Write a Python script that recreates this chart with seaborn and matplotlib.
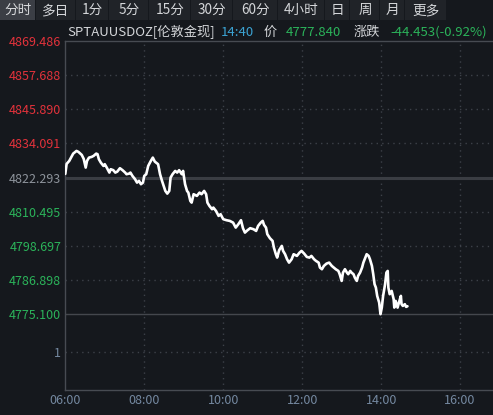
"""
London spot gold intraday chart (分时) - dark terminal style
"""

import matplotlib.pyplot as plt
import pandas as pd
import seaborn as sns
from matplotlib.patches import Rectangle

# -----------------------------
# Data
# -----------------------------
# minutes after 06:00
MINUTES = [
    0, 2, 6, 10, 12, 17, 20, 25, 28, 31, 33, 36, 40, 43, 47, 49, 51, 54, 58, 60,
    63, 67, 69, 73, 76, 79, 83, 87, 91, 93, 97, 99, 102, 106, 109, 112, 115, 118,
    120, 123, 126, 130, 133, 136, 141, 144, 147, 152, 155, 158, 160, 163, 167,
    170, 173, 177, 179, 182, 185, 187, 190, 192, 195, 200, 204, 207, 211, 214,
    216, 219, 223, 225, 229, 233, 236, 240, 245, 250, 255, 259, 263, 267, 270,
    273, 277, 281, 286, 290, 293, 297, 300, 302, 305, 307, 311, 315, 317, 320,
    322, 325, 329, 331, 334, 337, 340, 344, 347, 352, 356, 359, 363, 367, 371,
    374, 378, 381, 385, 387, 390, 393, 397, 401, 405, 408, 411, 415, 417, 420,
    422, 425, 428, 430, 433, 435, 438, 440, 443, 445, 448, 451, 453, 456, 458,
    461, 463, 466, 468, 470, 472, 474, 477, 479, 481, 483, 486, 488, 490, 491,
    493, 496, 499, 500, 502, 505, 507, 510, 511, 513, 516, 518, 520,
]
PRICE = [
    4823.57, 4827.02, 4828.06, 4829.79, 4830.58, 4831.51, 4831.17, 4830.13,
    4828.75, 4825.75, 4828.06, 4829.20, 4829.44, 4829.79, 4830.58, 4830.37,
    4828.65, 4827.47, 4826.33, 4826.92, 4825.75, 4824.02, 4825.19, 4824.85,
    4824.02, 4824.36, 4825.54, 4824.85, 4824.02, 4823.46, 4823.67, 4824.02,
    4822.88, 4821.74, 4820.56, 4821.15, 4820.01, 4820.56, 4822.88, 4823.46,
    4826.33, 4828.06, 4829.20, 4827.82, 4826.92, 4823.46, 4821.15, 4817.69,
    4816.76, 4817.69, 4822.29, 4823.46, 4824.60, 4824.02, 4824.85, 4823.46,
    4824.60, 4820.01, 4817.69, 4817.11, 4814.24, 4813.65, 4816.55, 4815.97,
    4817.11, 4816.55, 4817.69, 4816.55, 4813.65, 4812.51, 4811.37, 4811.93,
    4810.78, 4809.06, 4809.64, 4807.92, 4807.57, 4807.33, 4806.74, 4805.02,
    4806.19, 4807.57, 4804.81, 4803.29, 4804.12, 4804.81, 4804.46, 4803.87,
    4805.60, 4806.74, 4807.33, 4805.95, 4805.02, 4802.74, 4801.35, 4800.42,
    4798.11, 4795.82, 4794.65, 4797.21, 4798.69, 4796.96, 4795.82, 4794.10,
    4792.92, 4794.10, 4795.82, 4795.24, 4796.38, 4796.96, 4796.03, 4794.89,
    4794.65, 4795.24, 4794.10, 4793.51, 4792.92, 4791.20, 4790.64, 4791.78,
    4792.58, 4792.92, 4791.78, 4791.20, 4790.64, 4790.05, 4788.91, 4786.60,
    4789.47, 4790.64, 4789.47, 4788.91, 4790.05, 4789.47, 4788.91, 4787.74,
    4786.60, 4788.33, 4789.47, 4791.20, 4792.92, 4794.65, 4795.82, 4795.24,
    4794.10, 4791.78, 4788.91, 4785.46, 4784.29, 4781.42, 4779.10, 4775.10,
    4777.38, 4781.42, 4785.46, 4789.47, 4790.05, 4784.29, 4782.00, 4783.14,
    4780.28, 4777.38, 4779.69, 4777.38, 4779.10, 4781.42, 4778.55, 4777.96,
    4778.55, 4777.62, 4777.84,
]

Y_TICKS = [4869.486, 4857.688, 4845.890, 4834.091, 4822.293,
           4810.495, 4798.697, 4786.898, 4775.100, 4761.94]
Y_LABELS = ["4869.486", "4857.688", "4845.890", "4834.091", "4822.293",
            "4810.495", "4798.697", "4786.898", "4775.100", "1"]
X_TICKS = [0, 120, 240, 360, 480, 600]
X_LABELS = ["06:00", "08:00", "10:00", "12:00", "14:00", "16:00"]

TABS = ["分时", "多日", "1分", "5分", "15分", "30分", "60分", "4小时", "日", "周", "月", "更多"]
TAB_EDGES = [0, 36, 76, 109, 149, 191, 233, 278, 325, 350, 380, 405, 447]

PREV_CLOSE = 4822.293
DAY_LOW = 4775.100

# -----------------------------
# Style
# -----------------------------
BG = "#15181d"
TAB_BG = "#202328"
TAB_SEL = "#3b3e45"
GRID = "#3d4149"
SPINE = "#474b52"
RED = "#e2323b"
GREEN = "#2bb35a"
GRAY = "#8d939b"
BLUE_GRAY = "#7488a0"
CYAN = "#3ba3d3"
TEXT = "#d4d6d9"

W, H = 493, 415

sns.set_theme(style="dark")
plt.rcParams["font.family"] = ["Noto Sans CJK SC", "DejaVu Sans"]


def px(x, y):
    return x / W, 1 - y / H


def main() -> None:
    df = pd.DataFrame({"minute": MINUTES, "price": PRICE})

    fig = plt.figure(figsize=(W / 100, H / 100), dpi=100, facecolor=BG)

    # tab bar
    for i, label in enumerate(TABS):
        x0, x1 = TAB_EDGES[i], TAB_EDGES[i + 1]
        color = TAB_SEL if i == 0 else TAB_BG
        fig.patches.append(Rectangle(px(x0, 20), (x1 - x0 - 1) / W, 20 / H,
                                     transform=fig.transFigure, facecolor=color,
                                     edgecolor="none"))
        fig.text(*px((x0 + x1) / 2, 10), label, ha="center", va="center",
                 fontsize=9.8, color=TEXT)

    # header line
    header = [
        (67, "SPTAUUSDOZ[伦敦金现]", TEXT),
        (221, "14:40", CYAN),
        (264, "价", TEXT),
        (286, "4777.840", GREEN),
        (354, "涨跌", TEXT),
        (390, "-44.453(-0.92%)", GREEN),
    ]
    for x, txt, color in header:
        fig.text(*px(x, 32), txt, ha="left", va="center", fontsize=9.5, color=color)

    top, bottom, left = 41, 390, 65.3
    ax = fig.add_axes([left / W, (H - bottom) / H, (W - left) / W, (bottom - top) / H])
    ax.set_facecolor(BG)

    y_top = Y_TICKS[0]
    y_bottom = y_top - (bottom - top) * 0.3455
    ax.set_ylim(y_bottom, y_top)
    ax.set_xlim(0, (W - left) / 0.658)

    # grid
    for y in Y_TICKS[1:]:
        if y in (PREV_CLOSE, DAY_LOW):
            continue
        ax.axhline(y, color=GRID, lw=1, ls=(0, (1, 3)), zorder=1)
    for x in X_TICKS[1:]:
        ax.axvline(x, color=GRID, lw=1, ls=(0, (1, 3)), zorder=1)
    ax.axhline(PREV_CLOSE, color="#3a3d43", lw=2.2, zorder=1)
    ax.axhline(DAY_LOW, color="#44474d", lw=1, zorder=1)

    sns.lineplot(data=df, x="minute", y="price", ax=ax, color="white",
                 lw=1.9, zorder=3)

    ax.set_yticks(Y_TICKS)
    ax.set_yticklabels(Y_LABELS)
    ax.set_xticks(X_TICKS)
    ax.set_xticklabels(X_LABELS)
    ax.tick_params(axis="y", length=0, pad=3, labelsize=9)
    ax.tick_params(axis="x", length=0, pad=3, labelsize=9, colors=BLUE_GRAY)
    for lbl, val in zip(ax.get_yticklabels(), Y_TICKS):
        if val == Y_TICKS[-1]:
            lbl.set_color(BLUE_GRAY)
        elif val > PREV_CLOSE:
            lbl.set_color(RED)
        elif val < PREV_CLOSE:
            lbl.set_color(GREEN)
        else:
            lbl.set_color(GRAY)

    ax.set_xlabel("")
    ax.set_ylabel("")
    ax.grid(False)
    for side in ["left", "bottom", "top"]:
        ax.spines[side].set_visible(True)
        ax.spines[side].set_color(SPINE)
        ax.spines[side].set_linewidth(1)
    ax.spines["right"].set_visible(False)

    fig.savefig("out.png", dpi=100, facecolor=BG)


if __name__ == "__main__":
    main()
